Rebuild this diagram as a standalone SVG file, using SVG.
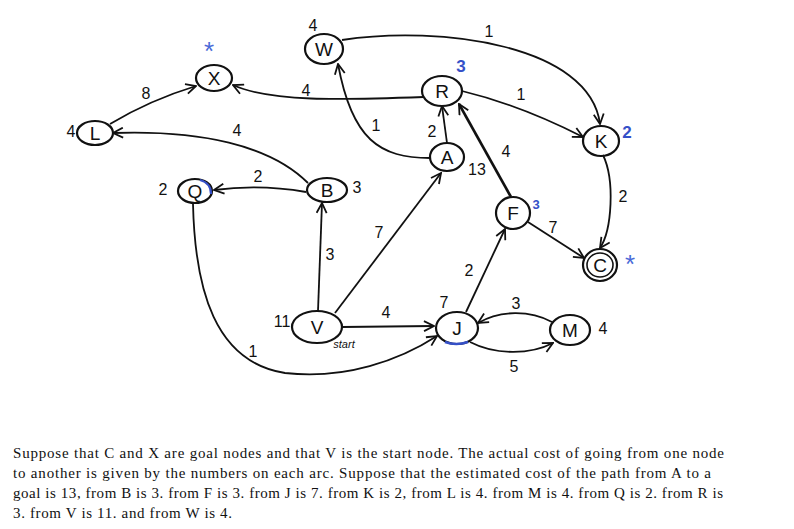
<svg xmlns="http://www.w3.org/2000/svg" width="794" height="529" viewBox="0 0 794 529">
<style>
.n{fill:none;stroke:#111;stroke-width:2.2}
.e{fill:none;stroke:#111;stroke-width:1.8;marker-end:url(#ah)}
.t{font-family:"Liberation Sans","DejaVu Sans",sans-serif;font-size:19px;fill:#111;text-anchor:middle}
.h{font-family:"Liberation Sans","DejaVu Sans",sans-serif;font-size:16px;fill:#111;text-anchor:middle}
.b{font-family:"Liberation Sans","DejaVu Sans",sans-serif;font-size:17px;fill:#3550c8;text-anchor:middle;font-weight:bold}
.s{font-family:"Liberation Sans","DejaVu Sans",sans-serif;font-size:26px;fill:#4a6ad8;text-anchor:middle}
.p{font-family:"Liberation Serif","DejaVu Serif",serif;font-size:15px;fill:#111}
</style>
<defs>
<marker id="ah" viewBox="0 0 12 12" refX="11" refY="6" markerWidth="12" markerHeight="12" markerUnits="userSpaceOnUse" orient="auto">
<path d="M1,1 L11,6 L1,11" fill="none" stroke="#111" stroke-width="1.8"/>
</marker>
</defs>
<rect width="794" height="529" fill="#fff"/>
<g id="connectors">
<path class="e" d="M110,124 Q150,100 196,86"/>
<path class="e" d="M424,97 C340,100 270,102 233,85"/>
<path class="e" d="M308,183 C270,145 200,130 113,133"/>
<path class="e" d="M306,192 Q260,184 214,190"/>
<path class="e" d="M342,40 C440,25 590,45 600,124"/>
<path class="e" d="M430,158 C380,158 352,140 338,64"/>
<path class="e" d="M447,143 L442,106"/>
<path class="e" d="M462,91 Q520,105 583,137"/>
<path class="e" d="M511,197 L459,104" style="stroke-width:2.6"/>
<path class="e" d="M603,155 C615,180 612,230 600,248"/>
<path class="e" d="M528,222 L584,258"/>
<path class="e" d="M318,311 L322,203"/>
<path class="e" d="M335,313 L441,173"/>
<path class="e" d="M342,327 L434,326"/>
<path class="e" d="M193,204 C195,290 215,362 285,373 C345,380 400,360 437,336"/>
<path class="e" d="M466,312 L505,229"/>
<path class="e" d="M552,322 C530,310 500,310 478,323"/>
<path class="e" d="M470,342 C495,355 530,355 553,343"/>
<text class="h" x="146" y="99">8</text>
<text class="h" x="306" y="96">4</text>
<text class="h" x="237" y="136">4</text>
<text class="h" x="258" y="182">2</text>
<text class="h" x="489" y="37">1</text>
<text class="h" x="376" y="131">1</text>
<text class="h" x="432" y="137">2</text>
<text class="h" x="521" y="100">1</text>
<text class="h" x="506" y="157">4</text>
<text class="h" x="623" y="202">2</text>
<text class="h" x="553" y="233">7</text>
<text class="h" x="330" y="260">3</text>
<text class="h" x="379" y="238">7</text>
<text class="h" x="386" y="318">4</text>
<text class="h" x="253" y="357">1</text>
<text class="h" x="469" y="276">2</text>
<text class="h" x="516" y="309">3</text>
<text class="h" x="514" y="372">5</text>
</g>
<g id="node-W"><ellipse class="n" cx="324" cy="49" rx="19" ry="15"/><text class="t" x="324" y="56">W</text><text class="h" x="313" y="31">4</text></g>
<g id="node-X"><ellipse class="n" cx="214" cy="78" rx="18" ry="13"/><text class="t" x="214" y="85">X</text><text class="s" x="209" y="60">*</text></g>
<g id="node-L"><ellipse class="n" cx="95" cy="133" rx="18" ry="12"/><text class="t" x="95" y="140">L</text><text class="h" x="71" y="137">4</text></g>
<g id="node-R"><ellipse class="n" cx="442" cy="91" rx="20" ry="15"/><text class="t" x="442" y="98">R</text><text class="b" x="461" y="72">3</text></g>
<g id="node-K"><ellipse class="n" cx="601" cy="141" rx="18" ry="15"/><text class="t" x="601" y="148">K</text><text class="b" x="627" y="138">2</text></g>
<g id="node-A"><ellipse class="n" cx="447" cy="157" rx="17" ry="14"/><text class="t" x="447" y="164">A</text><text class="h" x="477" y="175">13</text></g>
<g id="node-B"><ellipse class="n" cx="327" cy="190" rx="20" ry="12"/><text class="t" x="327" y="197">B</text><text class="h" x="357" y="193">3</text></g>
<g id="node-Q"><ellipse class="n" cx="195" cy="191" rx="17" ry="12"/><path d="M200,180 Q211,183 211,194" fill="none" stroke="#3550c8" stroke-width="2.2"/><text class="t" x="195" y="198">Q</text><text class="h" x="163" y="195">2</text></g>
<g id="node-F"><ellipse class="n" cx="513" cy="213" rx="17" ry="16"/><text class="t" x="513" y="220">F</text><text class="b" x="536" y="209" style="font-size:13px">3</text></g>
<g id="node-C"><ellipse class="n" cx="600" cy="265" rx="17" ry="16"/><ellipse class="n" cx="600" cy="265" rx="13" ry="12" style="stroke-width:1.6"/><text class="t" x="600" y="272">C</text><text class="s" x="630" y="273">*</text></g>
<g id="node-V"><ellipse class="n" cx="317" cy="327" rx="25" ry="16"/><text class="t" x="317" y="334">V</text><text class="h" x="282" y="327">11</text><text class="h" x="344" y="348" style="font-size:11px;font-style:italic">start</text></g>
<g id="node-J"><ellipse class="n" cx="457" cy="328" rx="21" ry="16"/><path d="M445,342 Q456,346 468,342" fill="none" stroke="#3550c8" stroke-width="2.4"/><text class="t" x="457" y="335">J</text><text class="h" x="444" y="308">7</text></g>
<g id="node-M"><ellipse class="n" cx="570" cy="330" rx="20" ry="15"/><text class="t" x="570" y="337">M</text><text class="h" x="603" y="334">4</text></g>
<g id="caption">
<text class="p" x="13" y="458" textLength="711" lengthAdjust="spacing">Suppose that C and X are goal nodes and that V is the start node. The actual cost of going from one node</text>
<text class="p" x="13" y="478" textLength="698" lengthAdjust="spacing">to another is given by the numbers on each arc. Suppose that the estimated cost of the path from A to a</text>
<text class="p" x="13" y="498" textLength="710" lengthAdjust="spacing">goal is 13, from B is 3. from F is 3. from J is 7. from K is 2, from L is 4. from M is 4. from Q is 2. from R is</text>
<text class="p" x="13" y="518" textLength="219" lengthAdjust="spacing">3. from V is 11. and from W is 4.</text>
</g>
</svg>
